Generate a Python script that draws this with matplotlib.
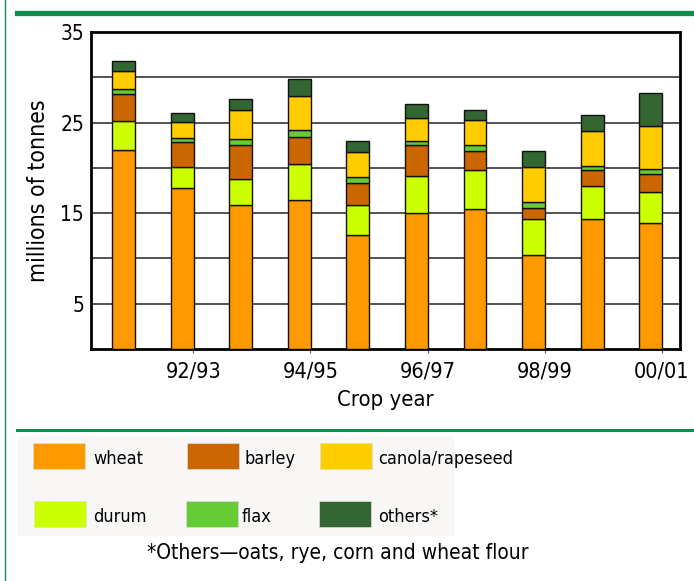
import numpy as np
import matplotlib
matplotlib.use('Agg')
import matplotlib.pyplot as plt
from matplotlib.patches import Rectangle
from matplotlib.lines import Line2D

plt.rcParams['font.family'] = ['DejaVu Sans']
plt.rcParams['font.stretch'] = 'condensed'

# ── Data (millions of tonnes) ─────────────────────────────
years = ['91/92', '92/93', '93/94', '94/95', '95/96',
         '96/97', '97/98', '98/99', '99/00', '00/01']
wheat  = [22.0, 17.8, 15.9, 16.4, 12.6, 15.0, 15.5, 10.4, 14.4, 13.9]
durum  = [3.2, 2.3, 2.9, 4.0, 3.3, 4.1, 4.3, 4.0, 3.6, 3.4]
barley = [3.0, 2.7, 3.7, 3.0, 2.4, 3.4, 2.1, 1.2, 1.8, 2.0]
flax   = [0.5, 0.5, 0.7, 0.8, 0.7, 0.5, 0.6, 0.6, 0.4, 0.6]
canola = [2.0, 1.8, 3.2, 3.7, 2.7, 2.5, 2.8, 3.9, 3.9, 4.7]
others = [1.1, 1.0, 1.2, 1.9, 1.3, 1.5, 1.05, 1.8, 1.7, 3.7]

tick_years = ['92/93', '94/95', '96/97', '98/99', '00/01']

series = [('wheat', wheat, '#FF9900'),
          ('durum', durum, '#CCFF00'),
          ('barley', barley, '#CC6600'),
          ('flax', flax, '#66CC33'),
          ('canola/rapeseed', canola, '#FFCC00'),
          ('others*', others, '#336633')]

fig = plt.figure(figsize=(6.94, 5.81), dpi=100)
green = '#0A8F4F'

# ── frame decorations ─────────────────────────────────────
fig.add_artist(Line2D([5/694, 5/694], [0, 1], color=green, lw=1.0))
fig.add_artist(Line2D([17/694, 1], [1-13/581, 1-13/581], color=green, lw=3.8))
fig.add_artist(Line2D([17/694, 1], [1-430/581, 1-430/581], color=green, lw=2.2))

# ── stacked bars ──────────────────────────────────────────
ax = fig.add_axes([91/694, 1-349/581, 589/694, 317/581])
x = np.arange(len(years))
bottom = np.zeros(len(years))
for name, vals, col in series:
    ax.bar(x, vals, width=0.39, bottom=bottom, color=col,
           edgecolor='#111111', linewidth=1.0, zorder=3)
    bottom += np.array(vals)

ax.set_ylim(0, 35)
ax.set_xlim(-0.555, 9.5)
for g in range(5, 35, 5):
    ax.axhline(g, color='#444444', lw=1.3, zorder=1)
ax.set_yticks([5, 15, 25, 35])
ax.tick_params(axis='y', length=0, labelsize=15, pad=5)
ax.set_xticks(x[1::2] + 0.19)
ax.set_xticklabels(tick_years)
ax.tick_params(axis='x', length=3, labelsize=15.5, pad=6, color='#555555')
for s in ax.spines.values():
    s.set_linewidth(2.0)
    s.set_color('black')
ax.set_ylabel('millions of tonnes', fontsize=16.5)
ax.yaxis.set_label_coords(-0.07, 0.5)
ax.set_xlabel('Crop year', fontsize=15.8, labelpad=6)

# ── legend ────────────────────────────────────────────────
fig.add_artist(Rectangle((18/694, 1-535/581), 435/694, 98/581,
                         transform=fig.transFigure, color='#F8F7F5', zorder=0))
legend_pos = {'wheat': (33, 443), 'barley': (187, 443), 'canola/rapeseed': (320, 443),
              'durum': (34, 501), 'flax': (186, 501), 'others*': (319, 501)}
text_x = {'wheat': 93, 'barley': 245, 'canola/rapeseed': 378,
          'durum': 93, 'flax': 242, 'others*': 378}
for name, vals, col in series:
    px, py = legend_pos[name]
    fig.add_artist(Rectangle((px/694, 1-(py+26)/581), 52/694, 26/581,
                             transform=fig.transFigure, facecolor=col,
                             edgecolor='#dddddd', lw=0.5))
    fig.text(text_x[name]/694, 1-(py+16)/581, name, fontsize=13,
             ha='left', va='center')

fig.text(338/694, 1-553/581, '*Others\u2014oats, rye, corn and wheat flour',
         fontsize=15, ha='center', va='center')

fig.savefig('out.png', dpi=100)
